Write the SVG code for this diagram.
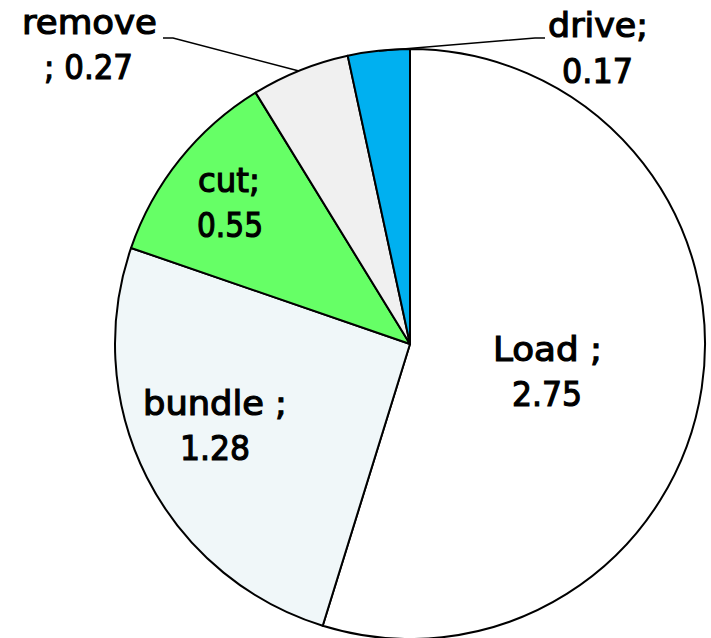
<svg xmlns="http://www.w3.org/2000/svg" width="711" height="638" viewBox="0 0 711 638">
<style>
.s{stroke:#000;stroke-width:2;stroke-linejoin:round}
.t{font-family:"DejaVu Sans",Verdana,sans-serif;font-size:34px;fill:#000;stroke:#000;stroke-width:1.2}
.l{fill:none;stroke:#000;stroke-width:1.5}
</style>
<rect width="711" height="638" fill="#fff"/>
<g id="load"><path class="s" fill="#FFFFFF" d="M410,344 L410,49 A295,295 0 1,1 322.72,625.79 Z"/>
<text class="t" x="493" y="361" textLength="109" lengthAdjust="spacingAndGlyphs">Load ;</text>
<text class="t" x="512" y="406" textLength="70" lengthAdjust="spacingAndGlyphs">2.75</text></g>
<g id="bundle"><path class="s" fill="#F0F7F9" d="M410,344 L322.72,625.79 A295,295 0 0,1 131.08,247.95 Z"/>
<text class="t" x="143" y="415" textLength="144" lengthAdjust="spacingAndGlyphs">bundle ;</text>
<text class="t" x="180" y="460" textLength="70" lengthAdjust="spacingAndGlyphs">1.28</text></g>
<g id="cut"><path class="s" fill="#66FF66" d="M410,344 L131.08,247.95 A295,295 0 0,1 255.62,92.62 Z"/>
<text class="t" x="198" y="192" textLength="62" lengthAdjust="spacingAndGlyphs">cut;</text>
<text class="t" x="197" y="237" textLength="66" lengthAdjust="spacingAndGlyphs">0.55</text></g>
<g id="remove"><path class="s" fill="#F0F0F0" d="M410,344 L255.62,92.62 A295,295 0 0,1 347.70,55.65 Z"/>
<text class="t" x="22" y="34" textLength="135" lengthAdjust="spacingAndGlyphs">remove</text>
<text class="t" x="44" y="79" textLength="89" lengthAdjust="spacingAndGlyphs">; 0.27</text></g>
<g id="drive"><path class="s" fill="#00B0F0" d="M410,344 L347.70,55.65 A295,295 0 0,1 410,49 Z"/>
<text class="t" x="548" y="37" textLength="100" lengthAdjust="spacingAndGlyphs">drive;</text>
<text class="t" x="562" y="83" textLength="71" lengthAdjust="spacingAndGlyphs">0.17</text></g>
<g id="connectors">
<polyline class="l" points="163,38 173,38 299,71"/>
<polyline class="l" points="379,51 535,38 545,38"/>
</g>
</svg>
